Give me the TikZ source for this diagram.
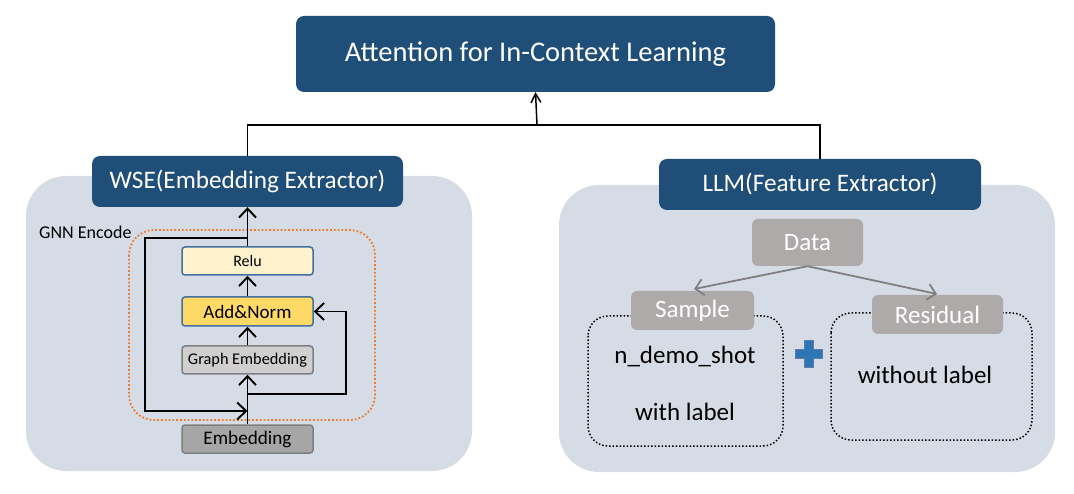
\documentclass[tikz,border=0pt]{standalone}
\usepackage{fontspec}
\setmainfont{Carlito}
\usetikzlibrary{arrows.meta}
\definecolor{dblue}{HTML}{1F4E79}
\definecolor{panel}{HTML}{D6DCE5}
\definecolor{dgray}{HTML}{AEAAAA}
\definecolor{orng}{HTML}{ED7D31}
\definecolor{bord}{HTML}{41719C}
\definecolor{lyel}{HTML}{FFF2CC}
\definecolor{yel}{HTML}{FFD966}
\definecolor{lgr}{HTML}{D0CECE}
\definecolor{mgr}{HTML}{A6A6A6}
\definecolor{gbord}{HTML}{7F7F7F}
\definecolor{pblue}{HTML}{2E75B6}
\definecolor{pbord}{HTML}{5B7FA8}
\begin{document}
\begin{tikzpicture}[x=1pt,y=-1pt,
  darkbox/.style={fill=dblue,rounded corners=8pt,text=white,inner sep=0pt},
  panelbg/.style={fill=panel,rounded corners=40pt},
  graybox/.style={fill=dgray,rounded corners=6pt,text=white,inner sep=0pt,font=\fontsize{25}{30}\selectfont},
  layer/.style={rounded corners=3pt,line width=1.5pt,inner sep=0pt,minimum width=131pt},
  arr/.style={line width=1.7pt,-{Straight Barb[length=9pt,width=17pt,line width=1.9pt]}},
  garr/.style={line width=1.8pt,draw=gbord,-{Straight Barb[length=8pt,width=16pt,line width=1.8pt]}},
  dotbox/.style={draw=black,dotted,line width=1.5pt,rounded corners=20pt},
  bodytext/.style={font=\fontsize{25}{30}\selectfont,inner sep=0pt}
]
\useasboundingbox (0,0) rectangle (1074,494);
% panels
\fill[panelbg] (26,176) rectangle (472,471);
\fill[panelbg] (559,185) rectangle (1055,472);
% top box
\node[darkbox,minimum width=479pt,minimum height=76pt,font=\fontsize{28.5}{34}\selectfont] (top) at (535.5,54) {Attention for In-Context Learning};
\node[darkbox,minimum width=311pt,minimum height=51pt,font=\fontsize{25.2}{30}\selectfont] (wse) at (247.5,181.5) {WSE(Embedding Extractor)};
\node[darkbox,minimum width=322pt,minimum height=51pt,font=\fontsize{25.2}{30}\selectfont] (llm) at (820,184.5) {LLM(Feature Extractor)};
\coordinate (jn) at (537,125);
\draw[line width=1.5pt] (wse.north) |- (jn) -| (llm.north);
\draw[line width=1.5pt,-{Straight Barb[length=9pt,width=10pt,line width=1.5pt]}] (jn) -- (top.south);
% left panel
\node[anchor=base west,inner sep=0pt,font=\fontsize{18}{21}\selectfont] (gnnlbl) at (39,239) {GNN Encode};
\draw[orng,dotted,line width=1.8pt,rounded corners=25pt] (129,230) rectangle (375,420);
\node[layer,draw=bord,fill=lyel,minimum height=28pt,font=\fontsize{16}{19}\selectfont] (relu) at (247.5,261) {Relu};
\node[layer,draw=bord,fill=yel,minimum height=29pt,font=\fontsize{19}{22}\selectfont] (add) at (247.5,311.5) {Add\&Norm};
\node[layer,draw=gbord,fill=lgr,minimum height=28pt,font=\fontsize{16.3}{19}\selectfont] (ge) at (247.5,360) {Graph Embedding};
\node[layer,draw=gbord,fill=mgr,minimum height=28pt,font=\fontsize{19.2}{22}\selectfont] (emb) at (247.5,439) {Embedding};
\draw[arr] (emb.north) -- (ge.south);
\draw[arr] (ge.north) -- (add.south);
\draw[arr] (add.north) -- (relu.south);
\draw[arr] (relu.north) -- (wse.south);
\coordinate (sk1) at (247.5,238);
\coordinate (skL) at (145,238);
\coordinate (skE) at (247.5,411);
\draw[arr] (sk1) -- (skL) |- (skE);
\coordinate (br) at (247.5,394);
\coordinate (rr) at (346,394);
\draw[arr] (br) -- (rr) |- (add.east);
% right panel
\draw[dotbox] (588,316) rectangle (783,446);
\draw[dotbox] (831,313) rectangle (1032,440);
\node[graybox,minimum width=111pt,minimum height=47pt] (data) at (807.5,242.5) {Data};
\node[graybox,minimum width=123pt,minimum height=39pt] (sample) at (692.5,310.5) {Sample};
\node[graybox,minimum width=131pt,minimum height=39pt] (resid) at (937.5,314.5) {Residual};
\draw[garr] (data.south) -- (694,289);
\draw[garr] (data.south) -- (937,294);
\node[bodytext] (nds) at (685,356) {n\_demo\_shot};
\node[bodytext] (wl) at (685,412) {with label};
\node[bodytext] (wol) at (925,375) {without label};
% plus sign
\draw[fill=pblue,draw=pbord,line width=1pt]
  (804.5,340.5) -- (813.5,340.5) -- (813.5,349.5) -- (822.5,349.5) -- (822.5,358.5)
  -- (813.5,358.5) -- (813.5,367.5) -- (804.5,367.5) -- (804.5,358.5) -- (795.5,358.5)
  -- (795.5,349.5) -- (804.5,349.5) -- cycle;
\end{tikzpicture}
\end{document}
